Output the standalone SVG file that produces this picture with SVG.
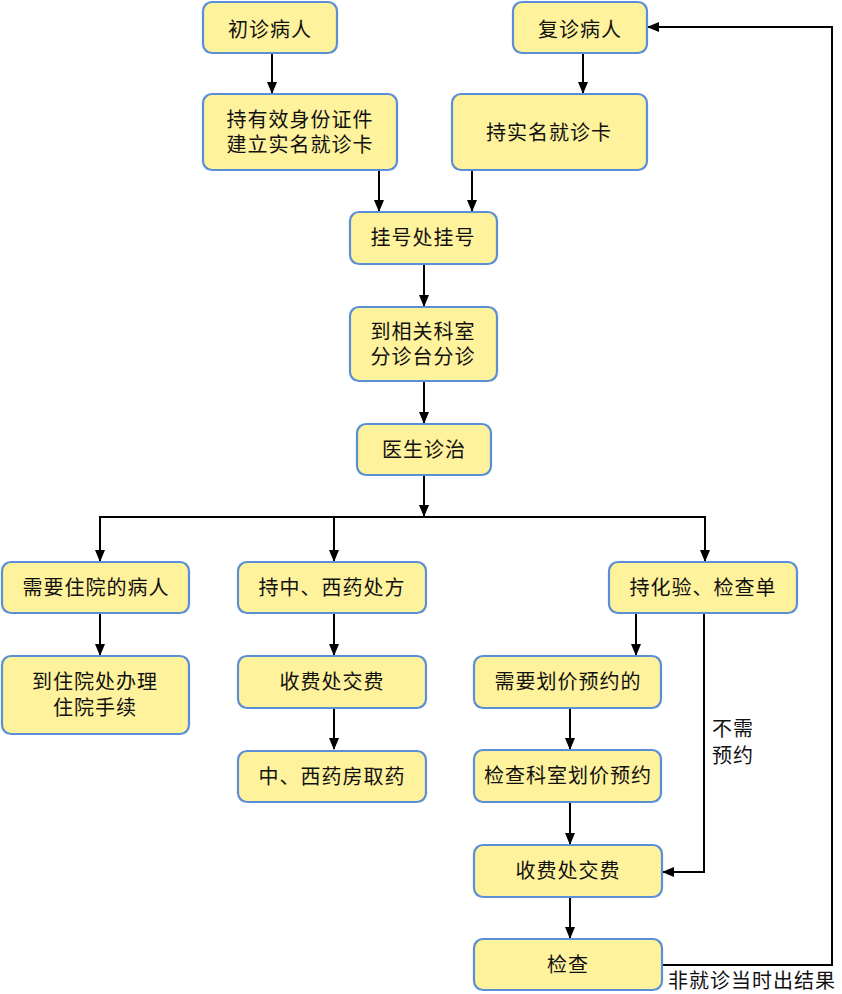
<svg xmlns="http://www.w3.org/2000/svg" width="842" height="994" viewBox="0 0 842 994">
<style>
.n{fill:#FFF29C;stroke:#5A8ED5;stroke-width:2.2}
.t{font-family:"Noto Sans CJK SC","Noto Sans",sans-serif;font-size:20px;fill:#111;text-anchor:middle;letter-spacing:1px}
.l{font-family:"Noto Sans CJK SC","Noto Sans",sans-serif;font-size:20px;fill:#111;letter-spacing:1px}
.c{fill:none;stroke:#000;stroke-width:2}
</style>
<defs>
<marker id="a" markerUnits="userSpaceOnUse" markerWidth="12" markerHeight="12" viewBox="0 0 12 12" refX="11" refY="6" orient="auto">
<path d="M0,1 L12,6 L0,11 Z" fill="#000"/>
</marker>
</defs>
<rect width="842" height="994" fill="#fff"/>
<g id="connectors">
<path class="c" d="M272,53 V93" marker-end="url(#a)"/>
<path class="c" d="M583,53 V93" marker-end="url(#a)"/>
<path class="c" d="M379,170 V211" marker-end="url(#a)"/>
<path class="c" d="M472,170 V211" marker-end="url(#a)"/>
<path class="c" d="M424,264 V306" marker-end="url(#a)"/>
<path class="c" d="M424,381 V423" marker-end="url(#a)"/>
<path class="c" d="M424,476 V516" marker-end="url(#a)"/>
<path class="c" d="M100,561 V517 H705 V561" marker-end="url(#a)"/>
<path class="c" d="M100,517 V561" marker-end="url(#a)"/>
<path class="c" d="M334,517 V561" marker-end="url(#a)"/>
<path class="c" d="M100,613 V655" marker-end="url(#a)"/>
<path class="c" d="M334,613 V655" marker-end="url(#a)"/>
<path class="c" d="M334,708 V749" marker-end="url(#a)"/>
<path class="c" d="M636,613 V655" marker-end="url(#a)"/>
<path class="c" d="M570,708 V749" marker-end="url(#a)"/>
<path class="c" d="M570,802 V844" marker-end="url(#a)"/>
<path class="c" d="M570,897 V938" marker-end="url(#a)"/>
<path class="c" d="M704,613 V872 H663" marker-end="url(#a)"/>
<path class="c" d="M662,965 H832 V27 H648" marker-end="url(#a)"/>
<text class="l" x="712" y="736">不需</text>
<text class="l" x="712" y="763">预约</text>
<text class="l" x="668" y="988">非就诊当时出结果</text>
</g>
<g id="n1"><rect class="n" x="203" y="2" width="134" height="51" rx="9"/><text class="t" x="270" y="37">初诊病人</text></g>
<g id="n2"><rect class="n" x="203" y="94" width="194" height="76" rx="9"/><text class="t" x="300" y="127">持有效身份证件</text><text class="t" x="300" y="152">建立实名就诊卡</text></g>
<g id="n3"><rect class="n" x="513" y="2" width="134" height="51" rx="9"/><text class="t" x="580" y="37">复诊病人</text></g>
<g id="n4"><rect class="n" x="452" y="94" width="195" height="76" rx="9"/><text class="t" x="549" y="140">持实名就诊卡</text></g>
<g id="n5"><rect class="n" x="350" y="212" width="147" height="52" rx="9"/><text class="t" x="423" y="245">挂号处挂号</text></g>
<g id="n6"><rect class="n" x="350" y="307" width="147" height="74" rx="9"/><text class="t" x="423" y="339">到相关科室</text><text class="t" x="423" y="364">分诊台分诊</text></g>
<g id="n7"><rect class="n" x="357" y="424" width="134" height="51" rx="9"/><text class="t" x="424" y="457">医生诊治</text></g>
<g id="n8"><rect class="n" x="2" y="562" width="187" height="51" rx="9"/><text class="t" x="96" y="595">需要住院的病人</text></g>
<g id="n9"><rect class="n" x="2" y="656" width="187" height="78" rx="9"/><text class="t" x="95" y="689">到住院处办理</text><text class="t" x="95" y="715">住院手续</text></g>
<g id="n10"><rect class="n" x="238" y="562" width="188" height="51" rx="9"/><text class="t" x="332" y="595">持中、西药处方</text></g>
<g id="n11"><rect class="n" x="238" y="656" width="188" height="52" rx="9"/><text class="t" x="332" y="689">收费处交费</text></g>
<g id="n12"><rect class="n" x="238" y="751" width="188" height="51" rx="9"/><text class="t" x="332" y="784">中、西药房取药</text></g>
<g id="n13"><rect class="n" x="609" y="562" width="188" height="51" rx="9"/><text class="t" x="703" y="595">持化验、检查单</text></g>
<g id="n14"><rect class="n" x="474" y="656" width="187" height="52" rx="9"/><text class="t" x="568" y="689">需要划价预约的</text></g>
<g id="n15"><rect class="n" x="474" y="750" width="187" height="52" rx="9"/><text class="t" x="568" y="783">检查科室划价预约</text></g>
<g id="n16"><rect class="n" x="474" y="845" width="188" height="52" rx="9"/><text class="t" x="568" y="878">收费处交费</text></g>
<g id="n17"><rect class="n" x="474" y="939" width="188" height="51" rx="9"/><text class="t" x="568" y="972">检查</text></g>
</svg>
